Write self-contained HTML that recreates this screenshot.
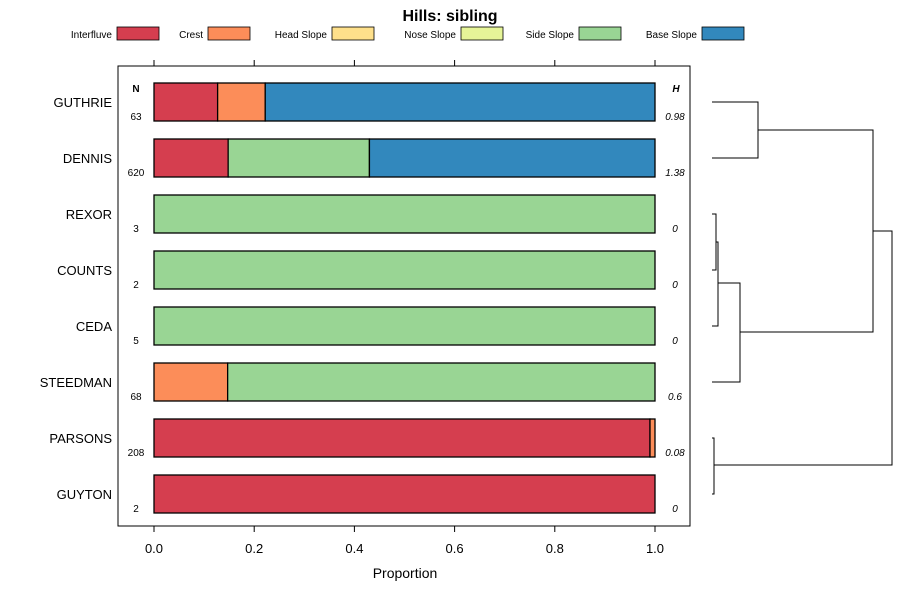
<!DOCTYPE html>
<html><head><meta charset="utf-8"><style>
body{margin:0;background:#fff;}
svg{display:block;font-family:"Liberation Sans",sans-serif;}
</style></head><body>
<svg id="chart" width="900" height="600" viewBox="0 0 900 600">
<text x="450" y="21" text-anchor="middle" font-size="16" font-weight="bold">Hills: sibling</text>
<g id="legend"></g>
<rect x="118" y="66" width="572" height="460" fill="none" stroke="#000" stroke-width="1"/>
<g id="axes"></g>
<g id="bars"></g>
<g id="dendro" fill="none" stroke="#000" stroke-width="1"></g>
<text x="405" y="578" text-anchor="middle" font-size="14">Proportion</text>
<text x="136" y="92" text-anchor="middle" font-size="10" font-weight="bold">N</text>
<text x="676" y="92" text-anchor="middle" font-size="10" font-weight="bold" font-style="italic">H</text>
</svg>
<script>
const categories=["Interfluve","Crest","Head Slope","Nose Slope","Side Slope","Base Slope"];
const colors=["#D53E4F","#FC8D59","#FEE08B","#E6F598","#99D594","#3288BD"];
const soils=["GUTHRIE","DENNIS","REXOR","COUNTS","CEDA","STEEDMAN","PARSONS","GUYTON"];
const counts=[63,620,3,2,5,68,208,2];
const entropy=["0.98","1.38","0","0","0","0.6","0.08","0"];
const interfluve=[0.127,0.148,0,0,0,0,0.99,1];
const crest=[0.095,0,0,0,0,0.147,0.01,0];
const headSlope=[0,0,0,0,0,0,0,0];
const noseSlope=[0,0,0,0,0,0,0,0];
const sideSlope=[0,0.282,1,1,1,0.853,0,0];
const baseSlope=[0.778,0.57,0,0,0,0,0,0];
const ticks=["0.0","0.2","0.4","0.6","0.8","1.0"];
const tickVals=[0,0.2,0.4,0.6,0.8,1];
const series=[interfluve,crest,headSlope,noseSlope,sideSlope,baseSlope];
const NS="http://www.w3.org/2000/svg";
function mk(t,a,p,txt){const e=document.createElementNS(NS,t);for(const k in a)e.setAttribute(k,a[k]);if(txt!==undefined)e.textContent=txt;p.appendChild(e);return e;}
const X=v=>154+v*501;
const Y=i=>102+i*56;
// legend
const lg=document.getElementById('legend');
const lx=[112,203,327,456,574,697];
categories.forEach((c,i)=>{
 const t=mk('text',{x:lx[i],y:38,'text-anchor':'end','font-size':'10',fill:'#000'},lg,c);
 
 
 const r=mk('rect',{x:lx[i]+5,y:27,width:42,height:13,fill:colors[i],stroke:'#000','stroke-width':0.8},lg);
 
 
});
// axes
const ax=document.getElementById('axes');
tickVals.forEach((v,i)=>{
 const l1=mk('line',{x1:X(v),x2:X(v),y1:60,y2:66,stroke:'#000'},ax);
 
 
 const l2=mk('line',{x1:X(v),x2:X(v),y1:526,y2:532,stroke:'#000'},ax);
 
 
 const t=mk('text',{x:X(v),y:553,'text-anchor':'middle','font-size':'13'},ax,ticks[i]);
 
 
});
// bars
const bg=document.getElementById('bars');
soils.forEach((s,i)=>{
 const y=Y(i);
 const lab=mk('text',{x:112,y:y+5,'text-anchor':'end','font-size':'13'},bg,s);
 
 
 let acc=0;
 series.forEach((ser,k)=>{
  const v=ser[i];if(v<=0)return;
  const r=mk('rect',{x:X(acc),y:y-19,width:X(acc+v)-X(acc),height:38,fill:colors[k],stroke:'#000','stroke-width':1.3},bg);
  
  
  acc+=v;
 });
 const n=mk('text',{x:136,y:y+18,'text-anchor':'middle','font-size':'10'},bg,counts[i]);
 
 
 const h=mk('text',{x:675,y:y+18,'text-anchor':'middle','font-size':'10','font-style':'italic'},bg,entropy[i]);
 
 
});
// dendrogram
const dg=document.getElementById('dendro');
function link(x0a,ya,x0b,yb,xm){
 const p=mk('path',{d:`M${x0a},${ya}H${xm}V${yb}H${x0b}`},dg);
 
 
}
link(712,102,712,158,758);
link(712,214,712,270,716);
link(716,242,712,326,718);
link(718,283,712,382,740);
link(758,130,740,332,873);
link(712,438,712,494,714);
link(873,231,714,465,892);
</script>
</body></html>
